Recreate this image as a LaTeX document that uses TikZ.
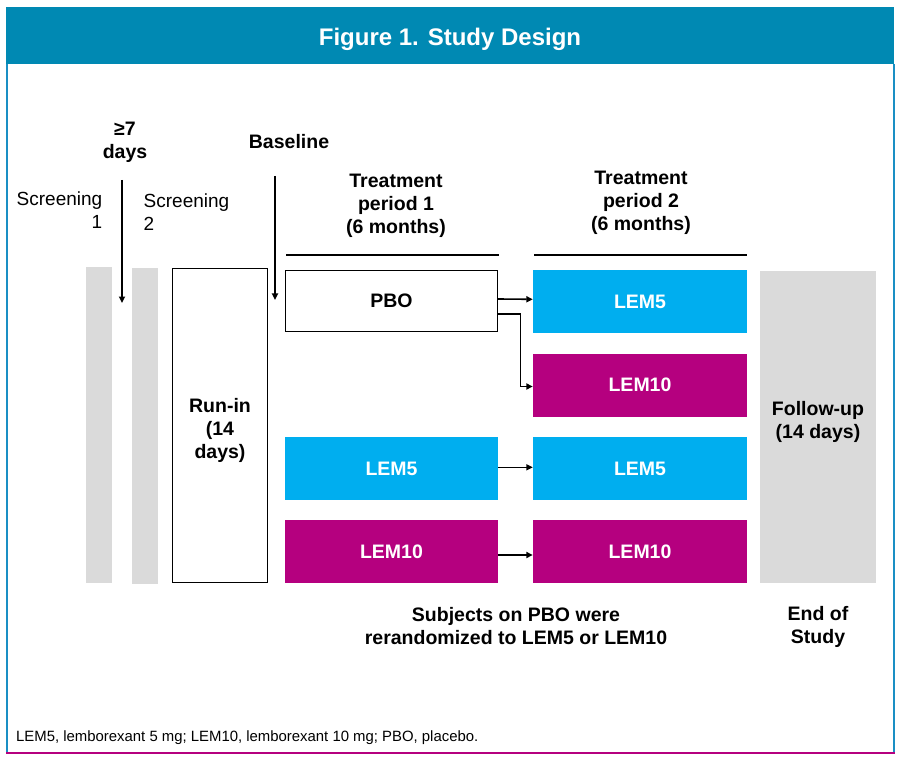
\documentclass[tikz,border=0pt]{standalone}
\usepackage{fontspec}
\setmainfont{Liberation Sans}
\usetikzlibrary{arrows.meta}
\definecolor{hdr}{HTML}{0089B3}
\definecolor{sideblue}{HTML}{1A8FC4}
\definecolor{cyanbox}{HTML}{00AEEF}
\definecolor{magbox}{HTML}{B5007F}
\definecolor{graybar}{HTML}{DADADA}
\begin{document}
\begin{tikzpicture}[x=1pt,y=-1pt,
  lbl/.style={font=\fontsize{19.5}{23}\selectfont\bfseries, align=center, inner sep=0pt},
  plain/.style={font=\fontsize{19}{23}\selectfont, inner sep=0pt},
  bar/.style={fill=graybar, draw=none, inner sep=0pt},
  wbox/.style={draw=black, line width=1.4pt, fill=white, inner sep=0pt, font=\fontsize{19.5}{23}\selectfont\bfseries, align=center},
  cbox/.style={fill=cyanbox, inner sep=0pt, text=white, font=\fontsize{19.5}{23}\selectfont\bfseries, minimum width=214pt, minimum height=63pt},
  mbox/.style={fill=magbox, inner sep=0pt, text=white, font=\fontsize{19.5}{23}\selectfont\bfseries, minimum width=214pt, minimum height=63pt},
  arr/.style={line width=1.6pt, -{Triangle[length=6.5pt,width=6pt]}},
  rule/.style={line width=1.4pt}
]
\useasboundingbox (0,0) rectangle (900,762);
\fill[white] (0,0) rectangle (900,762);
% frame
\fill[hdr] (6,7) rectangle (894,64);
\fill[sideblue] (5.5,64) rectangle (7.5,752);
\fill[sideblue] (892.5,64) rectangle (894.5,752);
\fill[magbox] (5.5,751.7) rectangle (894.5,753.7);
\node[font=\fontsize{24}{28}\selectfont\bfseries, text=white, inner sep=0pt] (title) at (450,39) {Figure 1. Study Design};

% bars and boxes
\node[bar, minimum width=26pt, minimum height=316pt] (s1) at (99,425) {};
\node[bar, minimum width=26pt, minimum height=316pt] (s2) at (145,426) {};
\node[wbox, minimum width=95pt, minimum height=314pt] (runin) at (220,425.5) {};
\node[lbl] (runinlbl) at (220,430) {Run-in\\(14\\days)};
\node[wbox, minimum width=212pt, minimum height=61pt] (pbo) at (391.5,301) {PBO};
\node[cbox] (l5b) at (640,301.5) {LEM5};
\node[mbox] (l10b) at (640,385) {LEM10};
\node[cbox, minimum width=213pt] (l5a) at (391.5,468.5) {LEM5};
\node[cbox] (l5c) at (640,468.5) {LEM5};
\node[mbox, minimum width=213pt] (l10a) at (391.5,551.5) {LEM10};
\node[mbox] (l10c) at (640,551.5) {LEM10};
\node[bar, minimum width=116pt, minimum height=312pt] (fu) at (818,427) {};
\node[lbl] (fulbl) at (818,422) {Follow-up\\(14 days)};

% labels
\node[lbl] (d7) at (125,142.5) {≥7\\days};
\node[lbl, anchor=base] (base) at (289,148.5) {Baseline};
\node[plain, align=right, anchor=north east] (scr1) at (102.5,191.5) {Screening\\1};
\node[plain, align=left, anchor=north west] (scr2) at (143.5,193.5) {Screening\\2};
\node[lbl] (tp1) at (396,206) {Treatment\\period 1\\(6 months)};
\node[lbl] (tp2) at (641,203) {Treatment\\period 2\\(6 months)};
\node[lbl] (subj) at (516,626) {Subjects on PBO were\\rerandomized to LEM5 or LEM10};
\node[lbl] (eos) at (818,626.7) {End of\\Study};
\node[font=\fontsize{14.9}{18}\selectfont, anchor=base west, inner sep=0pt] (fn) at (16,741) {LEM5, lemborexant 5 mg; LEM10, lemborexant 10 mg; PBO, placebo.};

% period rules
\coordinate (r1a) at (286,255); \coordinate (r1b) at (499,255);
\coordinate (r2a) at (534,255); \coordinate (r2b) at (747,255);
\draw[rule] (r1a) -- (r1b);
\draw[rule] (r2a) -- (r2b);

% vertical arrows
\coordinate (a7s) at (122,180); \coordinate (a7e) at (122,303);
\coordinate (bls) at (275,176); \coordinate (ble) at (275,300);
\draw[arr] (a7s) -- (a7e);
\draw[arr] (bls) -- (ble);

% connectors
\draw[arr] ([yshift=2pt]pbo.east) -- ([yshift=2.2pt]l5b.west);
\coordinate (elb) at (520.5,314);
\draw[arr] ([yshift=-13pt]pbo.east) -- (elb) |- ([yshift=-1.5pt]l10b.west);
\draw[arr] ([yshift=1.2pt]l5a.east) -- ([yshift=1.2pt]l5c.west);
\draw[arr] ([yshift=-3.5pt]l10a.east) -- ([yshift=-3.5pt]l10c.west);
\end{tikzpicture}
\end{document}
